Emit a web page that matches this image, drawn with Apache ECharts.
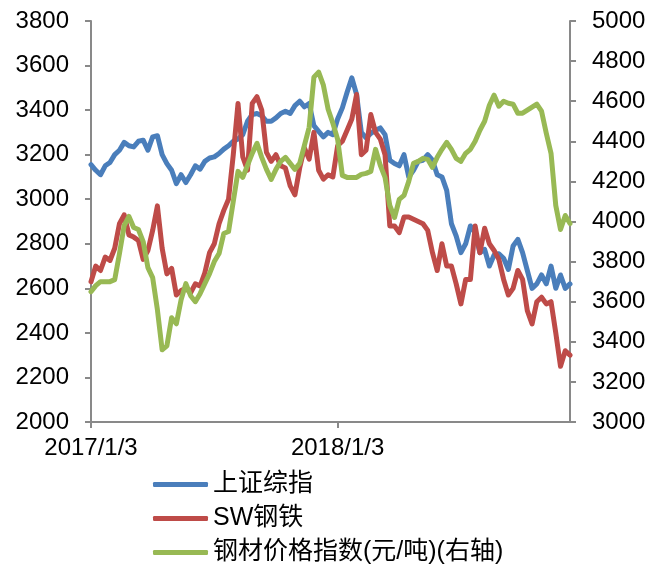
<!DOCTYPE html>
<html>
<head>
<meta charset="utf-8">
<script src="https://cdn.jsdelivr.net/npm/echarts@6/dist/echarts.min.js"></script>
<style>
html, body { margin: 0; padding: 0; background: #fff; }
#chart { width: 653px; height: 567px; }
</style>
</head>
<body>
<div id="chart"></div>
<script>
// weekly samples, 2017 tuesdays then 2018 wednesdays
var dates = [
    '2017/1/3', '2017/1/10', '2017/1/17', '2017/1/24', '2017/1/31', '2017/2/7', '2017/2/14', '2017/2/21', '2017/2/28',
    '2017/3/7', '2017/3/14', '2017/3/21', '2017/3/28', '2017/4/4', '2017/4/11', '2017/4/18', '2017/4/25',
    '2017/5/2', '2017/5/9', '2017/5/16', '2017/5/23', '2017/5/30', '2017/6/6', '2017/6/13', '2017/6/20', '2017/6/27',
    '2017/7/4', '2017/7/11', '2017/7/18', '2017/7/25', '2017/8/1', '2017/8/8', '2017/8/15', '2017/8/22', '2017/8/29',
    '2017/9/5', '2017/9/12', '2017/9/19', '2017/9/26', '2017/10/3', '2017/10/10', '2017/10/17', '2017/10/24', '2017/10/31',
    '2017/11/7', '2017/11/14', '2017/11/21', '2017/11/28', '2017/12/5', '2017/12/12', '2017/12/19', '2017/12/26',
    '2018/1/3', '2018/1/10', '2018/1/17', '2018/1/24', '2018/1/31', '2018/2/7', '2018/2/14', '2018/2/21', '2018/2/28',
    '2018/3/7', '2018/3/14', '2018/3/21', '2018/3/28', '2018/4/4', '2018/4/11', '2018/4/18', '2018/4/25',
    '2018/5/2', '2018/5/9', '2018/5/16', '2018/5/23', '2018/5/30', '2018/6/6', '2018/6/13', '2018/6/20', '2018/6/27',
    '2018/7/4', '2018/7/11', '2018/7/18', '2018/7/25', '2018/8/1', '2018/8/8', '2018/8/15', '2018/8/22', '2018/8/29',
    '2018/9/5', '2018/9/12', '2018/9/19', '2018/9/26', '2018/10/3', '2018/10/10', '2018/10/17', '2018/10/24', '2018/10/31',
    '2018/11/7', '2018/11/14', '2018/11/21', '2018/11/28', '2018/12/5', '2018/12/12'
];
var shownDates = ['2017/1/3', '2018/1/3'];

var shIndex = [
    3155, 3130, 3110, 3150, 3165, 3200, 3220, 3255, 3240, 3235,
    3260, 3265, 3220, 3280, 3285, 3200, 3160, 3130, 3070, 3110,
    3075, 3110, 3150, 3135, 3170, 3185, 3190, 3205, 3225, 3240,
    3260, 3270, 3290, 3350, 3380, 3385, 3375, 3350, 3350, 3365,
    3385, 3395, 3385, 3420, 3440, 3415, 3430, 3330, 3305, 3280,
    3300, 3290, 3360, 3410, 3480, 3545, 3470, 3300, 3275, 3295,
    3310, 3320, 3290, 3175, 3160, 3150, 3200, 3100, 3130, 3170,
    3175, 3200, 3175, 3110, 3100, 3040, 2890, 2835, 2760, 2800,
    2880, 2850, 2760, 2775, 2700, 2750, 2755, 2735, 2685, 2790,
    2820, 2760, 2680, 2600, 2620, 2660, 2620, 2700, 2600, 2660,
    2600, 2620
];
var swSteel = [
    2630, 2700, 2680, 2740, 2725, 2780, 2890, 2930, 2840, 2830,
    2815, 2730, 2770, 2860, 2970, 2780, 2665, 2690, 2570, 2590,
    2600, 2580, 2620, 2610, 2670, 2760, 2800, 2890, 2950, 3000,
    3200, 3430, 3190, 3130, 3430, 3460, 3400, 3210, 3170, 3200,
    3150, 3140, 3060, 3020, 3140, 3230, 3180, 3300, 3130, 3090,
    3110, 3100, 3240, 3260, 3310, 3360, 3470, 3200, 3220, 3380,
    3300, 3270, 3200, 2880, 2880, 2850, 2920, 2920, 2910, 2900,
    2890, 2860, 2760, 2680, 2800, 2700, 2700, 2620, 2530, 2640,
    2640, 2880, 2760, 2870, 2800, 2770, 2730, 2640, 2570, 2600,
    2680, 2640, 2500, 2440, 2540, 2560, 2530, 2540, 2400, 2250,
    2320, 2300
];
var steelPrice = [
    3650, 3680, 3700, 3700, 3700, 3710, 3840, 3980, 4025, 3970,
    3960, 3900, 3770, 3720, 3560, 3360, 3380, 3520, 3490, 3610,
    3690, 3630, 3600, 3640, 3690, 3740, 3800, 3840, 3940, 3950,
    4100, 4250, 4220, 4280, 4340, 4390, 4320, 4260, 4210, 4260,
    4300, 4320, 4290, 4260, 4290, 4380, 4470, 4720, 4745, 4680,
    4560, 4490, 4410, 4230, 4220, 4220, 4220, 4235, 4240, 4250,
    4360, 4280, 4220, 4080, 4020, 4110, 4130, 4200, 4290, 4300,
    4315, 4310, 4270, 4320, 4360, 4395, 4360, 4315, 4300, 4340,
    4360, 4400, 4455, 4500, 4580, 4630, 4575, 4600, 4590, 4585,
    4540, 4540, 4555, 4570, 4585, 4550, 4440, 4340, 4080, 3960,
    4030, 3990
];

var axisColor = '#898989';
var fontFam = '"Liberation Sans", Arial, "Noto Sans CJK SC", sans-serif';

var myChart = echarts.init(document.getElementById('chart'));

function isShown(idx) {
    return shownDates.indexOf(dates[idx]) >= 0;
}

var option = {
    animation: false,
    color: ['#4a7ebb', '#be4b48', '#98b954'],
    textStyle: { fontFamily: fontFam },
    grid: {
        left: 91,
        right: 83,
        top: 21,
        bottom: 145
    },
    legend: {
        orient: 'vertical',
        left: 153,
        top: 472,
        height: 120,
        padding: 0,
        itemWidth: 55,
        itemHeight: 5,
        itemGap: 9,
        icon: 'roundRect',
        textStyle: {
            fontSize: 25,
            color: '#000',
            fontFamily: fontFam
        },
        data: ['上证综指', 'SW钢铁', '钢材价格指数(元/吨)(右轴)']
    },
    xAxis: {
        type: 'category',
        data: dates,
        boundaryGap: false,
        axisLine: { lineStyle: { color: axisColor, width: 2 } },
        axisTick: {
            length: 6,
            interval: function (idx) { return isShown(idx); },
            lineStyle: { color: axisColor, width: 2 }
        },
        axisLabel: {
            interval: function (idx) { return isShown(idx); },
            fontSize: 24,
            color: '#000',
            margin: 14
        }
    },
    yAxis: [{
        type: 'value',
        min: 2000,
        max: 3800,
        interval: 200,
        splitLine: { show: false },
        axisLine: { show: true, lineStyle: { color: axisColor, width: 2 } },
        axisTick: { show: true, length: 6, lineStyle: { color: axisColor, width: 2 } },
        axisLabel: { fontSize: 24, color: '#000', margin: 22, formatter: function (v) { return String(v); } }
    }, {
        type: 'value',
        position: 'right',
        min: 3000,
        max: 5000,
        interval: 200,
        splitLine: { show: false },
        axisLine: { show: true, lineStyle: { color: axisColor, width: 2 } },
        axisTick: { show: true, length: 6, lineStyle: { color: axisColor, width: 2 } },
        axisLabel: { fontSize: 24, color: '#000', margin: 22, formatter: function (v) { return String(v); } }
    }],
    series: [{
        name: '上证综指',
        type: 'line',
        data: shIndex,
        showSymbol: false,
        symbol: 'none',
        lineStyle: { width: 5, join: 'round', cap: 'round' }
    }, {
        name: 'SW钢铁',
        type: 'line',
        data: swSteel,
        showSymbol: false,
        symbol: 'none',
        lineStyle: { width: 5, join: 'round', cap: 'round' }
    }, {
        name: '钢材价格指数(元/吨)(右轴)',
        type: 'line',
        yAxisIndex: 1,
        data: steelPrice,
        showSymbol: false,
        symbol: 'none',
        lineStyle: { width: 5, join: 'round', cap: 'round' }
    }]
};
myChart.setOption(option);
</script>
</body>
</html>
